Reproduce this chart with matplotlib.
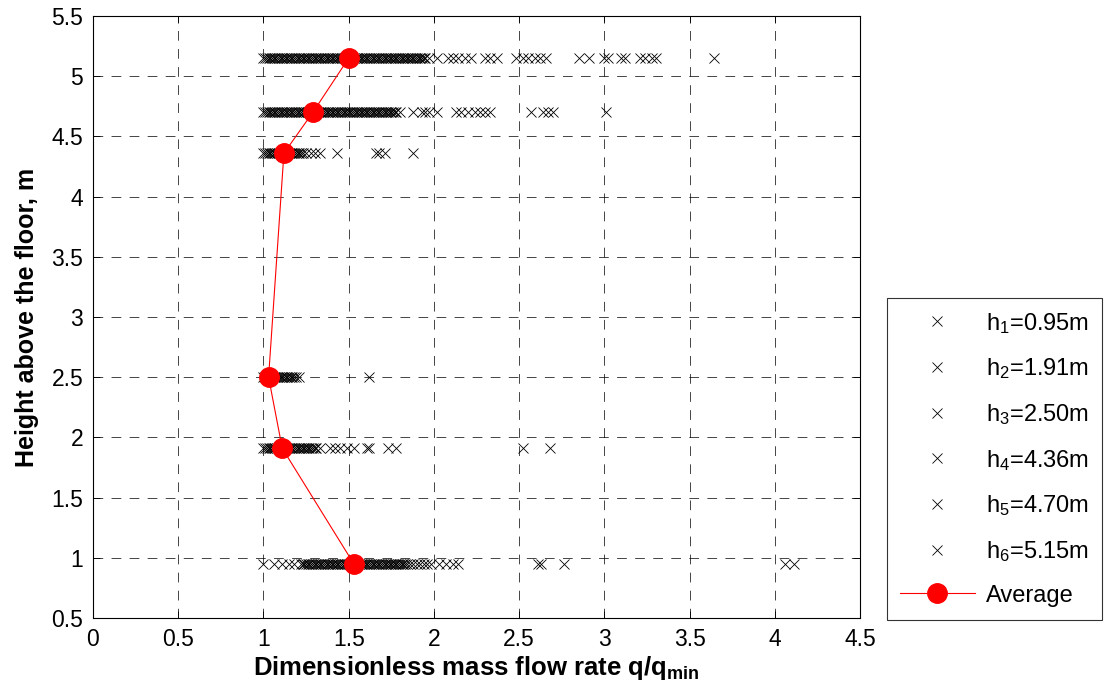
import matplotlib
matplotlib.use("Agg")
import matplotlib.pyplot as plt

plt.rcParams['font.family'] = ['Liberation Sans', 'DejaVu Sans']
plt.rcParams['mathtext.fontset'] = 'custom'
plt.rcParams['mathtext.rm'] = 'Liberation Sans'
plt.rcParams['mathtext.bf'] = 'Liberation Sans:bold'
plt.rcParams['mathtext.default'] = 'regular'
plt.rcParams['lines.scale_dashes'] = False

# measurement heights (m) and legend labels
heights = [0.95, 1.91, 2.50, 4.36, 4.70, 5.15]
labels = [r'h$_1$=0.95m', r'h$_2$=1.91m', r'h$_3$=2.50m',
          r'h$_4$=4.36m', r'h$_5$=4.70m', r'h$_6$=5.15m']

# dimensionless mass flow rate q/q_min
q_h1 = [1.00, 1.06, 1.11, 1.15, 1.18,
        1.22, 1.23, 1.24, 1.25, 1.26, 1.27, 1.28, 1.29, 1.30, 1.31, 1.32, 1.33,
        1.34, 1.35, 1.36, 1.37, 1.38, 1.39, 1.40, 1.41, 1.42, 1.43, 1.44, 1.45,
        1.46, 1.47, 1.48, 1.49, 1.50, 1.51, 1.52, 1.53, 1.54, 1.55, 1.56, 1.57,
        1.58, 1.59, 1.60, 1.61, 1.62, 1.63, 1.64, 1.65, 1.66, 1.67, 1.68, 1.69,
        1.70, 1.71, 1.72, 1.73, 1.74, 1.75, 1.76, 1.77, 1.78, 1.79, 1.80, 1.81,
        1.82, 1.83, 1.84, 1.86, 1.88, 1.90, 1.92, 1.94, 1.96, 1.98,
        2.03, 2.07, 2.11, 2.14, 2.61, 2.63, 2.76, 4.06, 4.11]
q_h2 = [1.00, 1.01, 1.02, 1.03, 1.04, 1.05, 1.06, 1.07, 1.08, 1.09, 1.10, 1.11,
        1.12, 1.13, 1.14, 1.15, 1.16, 1.17, 1.18, 1.19, 1.20, 1.21, 1.22, 1.23,
        1.24, 1.25, 1.26, 1.27, 1.28, 1.29, 1.30, 1.31, 1.33,
        1.39, 1.42, 1.45, 1.49, 1.53, 1.61, 1.62, 1.73, 1.78, 2.52, 2.68]
q_h3 = [1.00, 1.01, 1.02, 1.03, 1.04, 1.05, 1.06, 1.07, 1.08, 1.09, 1.10, 1.11,
        1.12, 1.13, 1.14, 1.15, 1.16, 1.17, 1.18, 1.19, 1.21, 1.62]
q_h4 = [1.00, 1.01, 1.02, 1.03, 1.04, 1.05, 1.06, 1.07, 1.08, 1.09, 1.10, 1.11,
        1.12, 1.13, 1.14, 1.15, 1.16, 1.17, 1.18, 1.19, 1.20, 1.21, 1.22, 1.23,
        1.25, 1.28, 1.30, 1.33, 1.43, 1.66, 1.68, 1.71, 1.88]
q_h5 = [1.00, 1.01, 1.02, 1.03, 1.04, 1.05, 1.06, 1.07, 1.08, 1.09, 1.10, 1.11,
        1.12, 1.13, 1.14, 1.15, 1.16, 1.17, 1.18, 1.19, 1.20, 1.21, 1.22, 1.23,
        1.24, 1.25, 1.26, 1.27, 1.28, 1.29, 1.30, 1.31, 1.32, 1.33, 1.34, 1.35,
        1.36, 1.37, 1.38, 1.39, 1.40, 1.41, 1.42, 1.43, 1.44, 1.45, 1.46, 1.47,
        1.48, 1.49, 1.50, 1.51, 1.52, 1.53, 1.54, 1.55, 1.56, 1.57, 1.58, 1.59,
        1.60, 1.61, 1.62, 1.63, 1.64, 1.65, 1.66, 1.67, 1.68, 1.69, 1.70, 1.71,
        1.72, 1.73, 1.74, 1.75, 1.76, 1.77, 1.78, 1.80,
        1.88, 1.93, 1.95, 1.97, 2.02, 2.13, 2.16, 2.20, 2.24, 2.27, 2.30, 2.33,
        2.57, 2.64, 2.67, 2.70, 3.01]
q_h6 = [1.00, 1.01, 1.02, 1.03, 1.04, 1.05, 1.06, 1.07, 1.08, 1.09, 1.10, 1.11,
        1.12, 1.13, 1.14, 1.15, 1.16, 1.17, 1.18, 1.19, 1.20, 1.21, 1.22, 1.23,
        1.24, 1.25, 1.26, 1.27, 1.28, 1.29, 1.30, 1.31, 1.32, 1.33, 1.34, 1.35,
        1.36, 1.37, 1.38, 1.39, 1.40, 1.41, 1.42, 1.43, 1.44, 1.45, 1.46, 1.47,
        1.48, 1.49, 1.50, 1.51, 1.52, 1.53, 1.54, 1.55, 1.56, 1.57, 1.58, 1.59,
        1.60, 1.61, 1.62, 1.63, 1.64, 1.65, 1.66, 1.67, 1.68, 1.69, 1.70, 1.71,
        1.72, 1.73, 1.74, 1.75, 1.76, 1.77, 1.78, 1.79, 1.80, 1.81, 1.82, 1.83,
        1.84, 1.85, 1.86, 1.87, 1.88, 1.89, 1.90, 1.91, 1.92, 1.93, 1.94, 1.95,
        1.97, 2.02, 2.08, 2.11, 2.14, 2.18, 2.22, 2.30, 2.33, 2.37,
        2.48, 2.52, 2.55, 2.59, 2.62, 2.66, 2.85, 2.91, 3.00, 3.02, 3.10, 3.12,
        3.21, 3.24, 3.28, 3.30, 3.64]
q_rows = [q_h1, q_h2, q_h3, q_h4, q_h5, q_h6]

# average per height
q_avg = [1.53, 1.11, 1.03, 1.12, 1.29, 1.50]

xticks = [0, 0.5, 1, 1.5, 2, 2.5, 3, 3.5, 4, 4.5]
xticklabels = ['0', '0.5', '1', '1.5', '2', '2.5', '3', '3.5', '4', '4.5']
yticks = [0.5, 1, 1.5, 2, 2.5, 3, 3.5, 4, 4.5, 5, 5.5]
yticklabels = ['0.5', '1', '1.5', '2', '2.5', '3', '3.5', '4', '4.5', '5', '5.5']

fig = plt.figure(figsize=(11.07, 6.94), dpi=100)
ax = fig.add_axes([0.084, 0.1095, 0.693, 0.8675])

for q, h, lab in zip(q_rows, heights, labels):
    ax.plot(q, [h] * len(q), linestyle='none', marker='x', color='black',
            markersize=7, markeredgewidth=0.6, label=lab)

ax.plot(q_avg, heights, color='red', linewidth=0.8, marker='o',
        markersize=14, markerfacecolor='red', markeredgecolor='red',
        label='Average')

ax.set_xlim(0, 4.5)
ax.set_ylim(0.5, 5.5)
ax.set_xticks(xticks)
ax.set_xticklabels(xticklabels)
ax.set_yticks(yticks)
ax.set_yticklabels(yticklabels)
ax.tick_params(direction='in', length=5, width=0.6, labelsize=16.5,
               top=True, right=True, pad=7)
ax.grid(True, color='black', linestyle=(0, (7, 6)), linewidth=0.6, alpha=0.85)
for s in ax.spines.values():
    s.set_linewidth(0.8)

ax.set_xlabel(r'Dimensionless mass flow rate q/q$_{\mathbf{min}}$',
              fontsize=18.5, fontweight='bold', labelpad=2)
ax.set_ylabel('Height above the floor, m', fontsize=18, fontweight='bold',
              labelpad=9)

leg = fig.legend(loc='lower left', bbox_to_anchor=(0.801, 0.107),
                 fontsize=17, frameon=True, fancybox=False, edgecolor='black',
                 handlelength=3.2, handletextpad=0.45, labelspacing=0.88,
                 borderpad=0.55, borderaxespad=0)
leg.get_frame().set_linewidth(0.8)

fig.savefig('out.png', dpi=100)
